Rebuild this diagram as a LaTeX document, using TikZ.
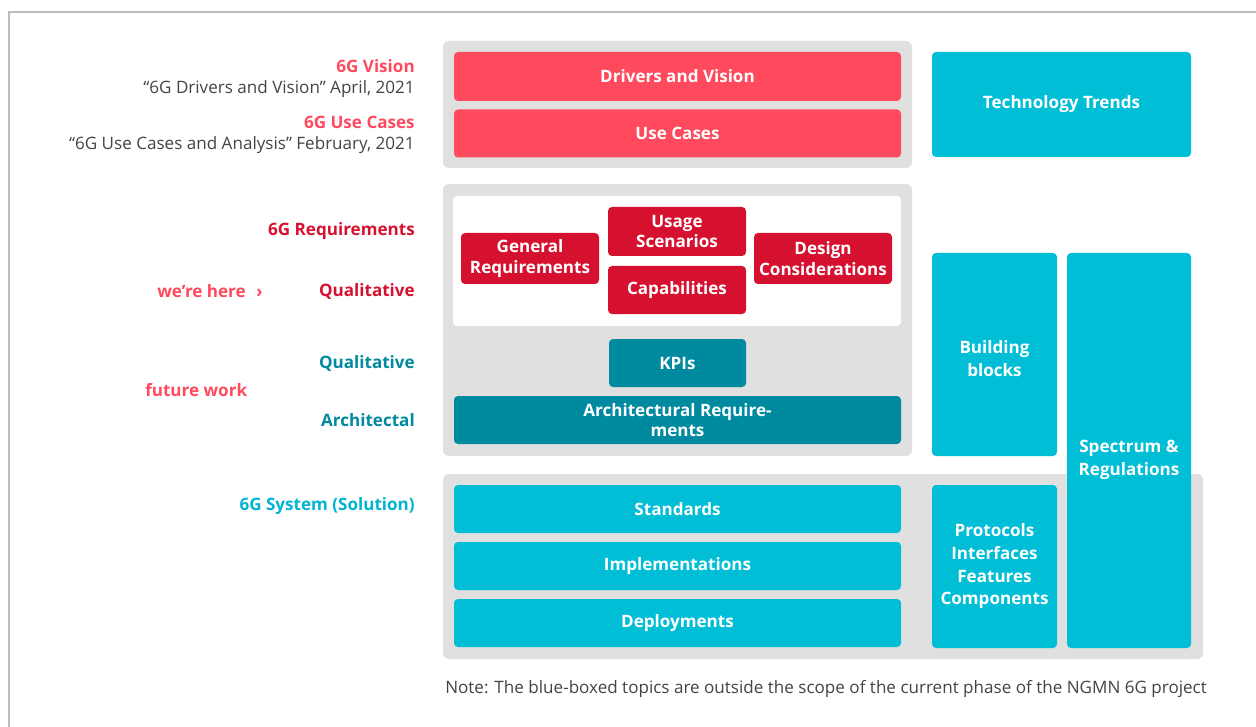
\documentclass[tikz,border=0pt]{standalone}
\usepackage{fontspec}
\setmainfont{Open Sans}
\usetikzlibrary{positioning}

\definecolor{ngpink}{HTML}{FF4A5E}
\definecolor{ngred}{HTML}{D61130}
\definecolor{ngteal}{HTML}{008AA0}
\definecolor{ngcyan}{HTML}{00BED6}
\definecolor{nglabelcyan}{HTML}{00B4D2}
\definecolor{ngpanel}{HTML}{E0E0E0}
\definecolor{ngtext}{HTML}{444444}
\definecolor{ngframe}{HTML}{BDBDBD}

\begin{document}
\begin{tikzpicture}[
        x=0.75pt,
        y=-0.75pt,
        every node/.style={font=\fontsize{12.8}{15.5}\selectfont, inner sep=0pt},
        panel/.style 2 args={fill=ngpanel, rounded corners=4.5pt,
                minimum width=#1*0.75pt, minimum height=#2*0.75pt},
        box/.style 2 args={rounded corners=3pt, align=center, text=white,
                font=\fontsize{12.8}{15.5}\selectfont\bfseries,
                minimum width=#1*0.75pt, minimum height=#2*0.75pt},
        tall/.style={font=\fontsize{12.8}{17}\selectfont\bfseries},
        lbl/.style={anchor=east, font=\fontsize{12.8}{15.5}\selectfont\bfseries},
        src/.style={anchor=east, text=ngtext}
    ]
    \useasboundingbox (0,0) rectangle (1256,727);
    \draw[ngframe, line width=1.5pt] (9,727) -- (9,12) -- (1256,12);

    % vision and use cases
    \node[panel={469}{127}] (vispanel) at (677.5,104.5) {};
    \node[box={447}{49}, fill=ngpink] (drivers) at (677.5,76.5) {Drivers and Vision};
    \node[box={447}{48}, fill=ngpink] (usecases) at (677.5,133.5) {Use Cases};
    \node[box={259}{105}, fill=ngcyan] (trends) at (1061.5,104.5) {Technology Trends};

    % requirements
    \node[panel={469}{272}] (reqpanel) at (677.5,320) {};
    \node[fill=white, rounded corners=3pt, minimum width=448*0.75pt,
        minimum height=130*0.75pt] (qualpanel) at (677,261) {};
    \node[box={138}{49}, fill=ngred] (usage) at (677,231.5) {Usage\\Scenarios};
    \node[box={138}{48}, fill=ngred] (capab) at (677,290) {Capabilities};
    \node[box={138}{51}, fill=ngred] (general) at (530,258.5) {General\\Requirements};
    \node[box={138}{51}, fill=ngred] (design) at (823,258.5) {Design\\Considerations};
    \node[box={137}{48}, fill=ngteal] (kpis) at (677.5,363) {KPIs};
    \node[box={447}{48}, fill=ngteal] (archreq) at (677.5,420) {Architectural Require-\\ments};
    \node[box={125}{203}, fill=ngcyan] (blocks) at (994.5,354.5) {};
    \node[box={0}{0}, tall] (blockstxt) at (994.5,358.5) {Building\\blocks};

    % system
    \node[panel={760}{185}] (syspanel) at (823,566.5) {};
    \node[box={447}{48}, fill=ngcyan] (standards) at (677.5,509) {Standards};
    \node[box={447}{48}, fill=ngcyan] (implem) at (677.5,566) {Implementations};
    \node[box={447}{48}, fill=ngcyan] (deploy) at (677.5,623) {Deployments};
    \node[box={125}{163}, fill=ngcyan, tall] (protocols) at (994.5,566.5)
        {Protocols\\Interfaces\\Features\\Components};
    \node[box={124}{395}, fill=ngcyan] (spectrum) at (1129,450.5) {};
    \node[box={0}{0}, tall] (spectrumtxt) at (1129,460) {Spectrum \&\\Regulations};

    % left labels
    \node[lbl, text=ngpink] (visionlbl) at (415,66) {6G Vision};
    \node[src] (visionsrc) at (415,89) {“6G Drivers and Vision” April, 2021};
    \node[lbl, text=ngpink] (usecaselbl) at (415,122) {6G Use Cases};
    \node[src] (usecasesrc) at (415,145) {“6G Use Cases and Analysis” February, 2021};
    \node[lbl, text=ngred] (reqlbl) at (415,231) {6G Requirements};
    \node[lbl, text=ngred] (quallbl) at (415,291) {Qualitative};
    \node[lbl, text=ngpink, anchor=west] (herelbl) at (157,291) {we’re here\hspace{8pt}›};
    \node[lbl, text=ngteal] (qual2lbl) at (415,363) {Qualitative};
    \node[lbl, text=ngpink, anchor=west] (futurelbl) at (145,390) {future work};
    \node[lbl, text=ngteal] (archlbl) at (415,420) {Architectal};
    \node[lbl, text=nglabelcyan] (syslbl) at (415,506) {6G System (Solution)};

    \node[anchor=west, text=ngtext] (note) at (445,689)
        {Note: The blue-boxed topics are outside the scope of the current phase of the NGMN 6G project};
\end{tikzpicture}
\end{document}
